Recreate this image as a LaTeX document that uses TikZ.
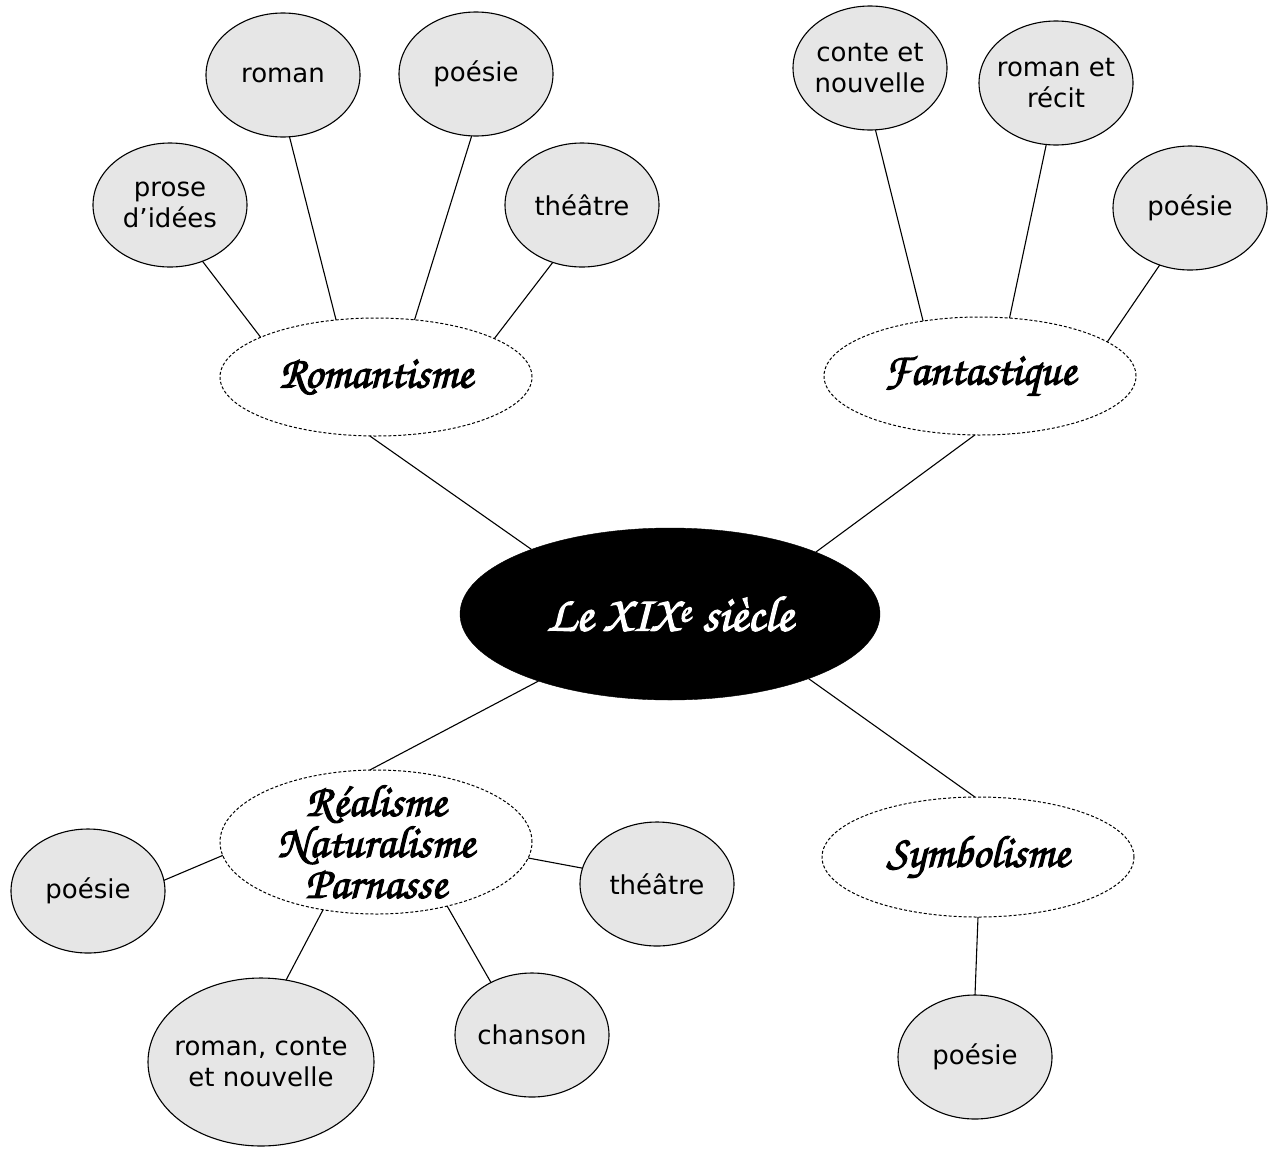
\documentclass[tikz,border=0pt]{standalone}
\usepackage{fontspec}
\setmainfont{DejaVu Sans}
\newfontfamily\scriptf[FakeBold=2.5]{texgyrechorus-mediumitalic.otf}
\usetikzlibrary{shapes.geometric}
\definecolor{bub}{HTML}{E6E6E6}
\tikzset{
  leaf/.style={ellipse, draw, fill=bub, line width=1.1pt, inner sep=0pt, outer sep=0pt, minimum width=154pt, minimum height=124pt},
  ltext/.style={font=\fontsize{26}{31}\selectfont, align=center, inner sep=0pt},
  cat/.style={ellipse, draw, dash pattern=on 3pt off 2pt, fill=white, line width=1pt, inner sep=0pt, outer sep=0pt, minimum width=312pt, minimum height=118pt},
  ctext/.style={font=\scriptf\fontsize{45}{41}\selectfont, align=center, inner sep=0pt},
  conn/.style={draw, line width=1.1pt},
}
\begin{document}
\begin{tikzpicture}[x=1pt,y=-1pt]
\useasboundingbox (0,0) rectangle (1271,1149);
% centre
\node[ellipse, fill=black, draw=black, inner sep=0pt, outer sep=0pt, minimum width=420pt, minimum height=172pt,
  label={[ctext, font=\scriptf\fontsize{50}{50}\selectfont, text=white]center:{Le XIX\textsuperscript{e} siècle}}] (cen) at (670,614) {};
% categories
\node[cat, label={[ctext]center:{Romantisme}}] (rom) at (376,377) {};
\node[cat, label={[ctext]center:{Fantastique}}] (fan) at (980,376) {};
\node[cat, minimum height=144pt, label={[ctext]center:{Réalisme\\Naturalisme\\Parnasse}}] (rea) at (376,842) {};
\node[cat, minimum height=120pt, label={[ctext]center:{Symbolisme}}] (sym) at (978,857) {};
% leaves Romantisme
\node[leaf, label={[ltext]center:{prose\\d’idées}}] (pro) at (170,205) {};
\node[leaf, label={[ltext]center:{roman}}] (rrom) at (283,75) {};
\node[leaf, label={[ltext]center:{poésie}}] (rpoe) at (476,74) {};
\node[leaf, label={[ltext]center:{théâtre}}] (rthe) at (582,205) {};
% leaves Fantastique
\node[leaf, label={[ltext]center:{conte et\\nouvelle}}] (fcon) at (870,68) {};
\node[leaf, label={[ltext]center:{roman et\\récit}}] (from) at (1056,83) {};
\node[leaf, label={[ltext]center:{poésie}}] (fpoe) at (1190,208) {};
% leaves Réalisme
\node[leaf, label={[ltext]center:{poésie}}] (apoe) at (88,891) {};
\node[leaf, label={[ltext]center:{théâtre}}] (athe) at (657,884) {};
\node[leaf, minimum width=226pt, minimum height=168pt, label={[ltext]center:{roman, conte\\et nouvelle}}] (arom) at (261,1062) {};
\node[leaf, label={[ltext]center:{chanson}}] (acha) at (532,1035) {};
% leaf Symbolisme
\node[leaf, label={[ltext]center:{poésie}}] (spoe) at (975,1057) {};
% connectors
\draw[conn] (rom.264) -- (cen.155);
\draw[conn] (fan.265) -- (cen.23);
\draw[conn] (cen.207) -- (rea.95);
\draw[conn] (cen.335) -- (sym.93);
\draw[conn] (pro.300) -- (rom.161);
\draw[conn] (rrom.276) -- (rom.125);
\draw[conn] (rpoe.266) -- (rom.56);
\draw[conn] (rthe.243) -- (rom.18);
\draw[conn] (fcon.275) -- (fan.136);
\draw[conn] (from.261) -- (fan.63);
\draw[conn] (fpoe.242) -- (fan.15.5);
\draw[conn] (apoe.8) -- (rea.185);
\draw[conn] (athe.168) -- (rea.354);
\draw[conn] (arom.73) -- (rea.232);
\draw[conn] (acha.128) -- (rea.318);
\draw[conn] (sym.south) -- (spoe.north);
\end{tikzpicture}
\end{document}
